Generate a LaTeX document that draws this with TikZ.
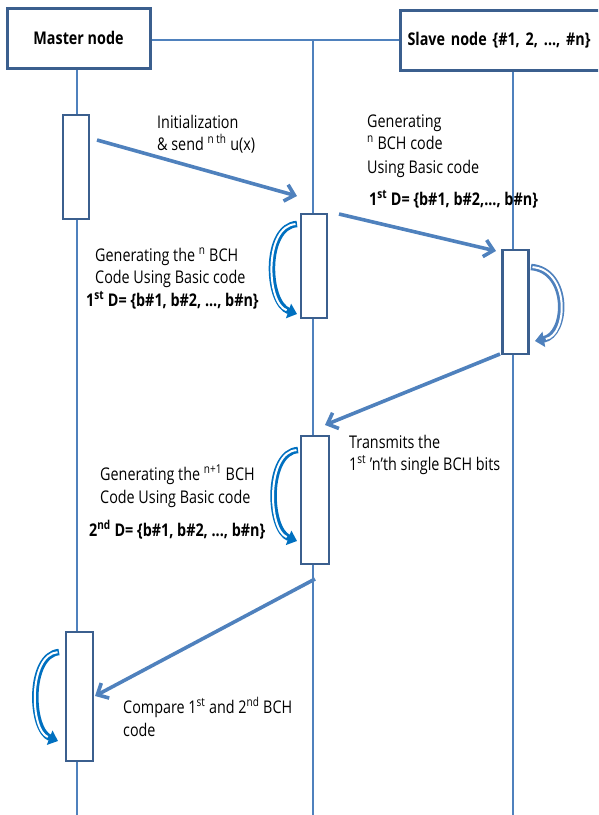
\documentclass[tikz,border=0pt]{standalone}
\usepackage{fontspec}
\setmainfont{Open Sans}[FakeStretch=0.82]
\usetikzlibrary{arrows.meta}
\definecolor{lifeblue}{HTML}{4F81BD}
\definecolor{boxblue}{HTML}{3B5F8E}
\definecolor{selfblue}{HTML}{0070C0}
\tikzset{
  headbox/.style={draw=boxblue, line width=3pt, fill=white, minimum height=60pt, inner sep=0pt},
  actbox/.style={draw=boxblue, line width=2.8pt, fill=white, minimum width=26pt, inner sep=0pt},
  lifeline/.style={draw=lifeblue, line width=2.6pt},
  msgarrow/.style={draw=lifeblue, line width=3.6pt, -{Straight Barb[length=9pt,width=17pt]}},
  selfout/.style={line width=6.5pt, -{Triangle[length=9pt,width=15pt]}},
  selfin/.style={draw=white, line width=2pt, shorten >=11pt, shorten <=1.5pt},
  lbl/.style={anchor=base west, inner sep=0pt, font=\fontsize{17.5}{22}\selectfont},
  blbl/.style={anchor=base west, inner sep=0pt, font=\fontsize{17.5}{22}\selectfont\bfseries}
}
\begin{document}
\begin{tikzpicture}[x=1pt,y=-1pt]
\useasboundingbox (0,0) rectangle (598,815);
\begin{scope}
\clip (0,0) rectangle (598,815);
% lifelines
\coordinate (mTop) at (77,68);
\coordinate (mBot) at (77,815);
\coordinate (cTop) at (313,40);
\coordinate (cBot) at (313,815);
\coordinate (sTop) at (513,70);
\coordinate (sBot) at (513,815);
\draw[lifeline] (mTop) -- (mBot);
\draw[lifeline] (cTop) -- (cBot);
\draw[lifeline] (sTop) -- (sBot);
\coordinate (hL) at (150,40);
\coordinate (hR) at (399,40);
\draw[lifeline] (hL) -- (hR);
% header boxes
\node[headbox, minimum width=143pt, font=\fontsize{17.5}{22}\selectfont\bfseries] (master) at (78.5,38) {Master node};
\node[headbox, anchor=west, text width=192pt, inner xsep=7pt, align=left, font=\fontsize{17.5}{22}\selectfont\bfseries] (slave) at (399,40) {Slave node \{\#1, 2, ..., \#n\}};
% activation boxes
\node[actbox, minimum height=104pt] (m1) at (76,167) {};
\node[actbox, minimum height=104pt] (c1) at (314,266) {};
\node[actbox, minimum height=104pt] (s1) at (515.5,302) {};
\node[actbox, minimum height=128pt, minimum width=28pt] (c2) at (315,500) {};
\node[actbox, minimum height=129pt, minimum width=27pt] (m2) at (79.5,696.5) {};
% message arrows
\coordinate (a1s) at (97,140);
\coordinate (a1e) at (297,196);
\coordinate (a2s) at (339,214);
\coordinate (a2e) at (496,251);
\coordinate (a3s) at (500,354);
\coordinate (a3e) at (325,425);
\coordinate (a4s) at (315,579);
\coordinate (a4e) at (95,696);
\draw[msgarrow] (a1s) -- (a1e);
\draw[msgarrow] (a2s) -- (a2e);
\draw[msgarrow] (a3s) -- (a3e);
\draw[msgarrow] (a4s) -- (a4e);
% self arrows
\coordinate (f1s) at (297,224);
\coordinate (f1e) at (297,314);
\draw[selfout, draw=selfblue] (f1s) .. controls (264,226) and (266,303) .. (f1e);
\draw[selfin] (f1s) .. controls (264,226) and (266,303) .. (f1e);
\coordinate (f2s) at (531,267);
\coordinate (f2e) at (535,341);
\draw[selfout, draw=lifeblue] (f2s) .. controls (570,270) and (568,335) .. (f2e);
\draw[selfin] (f2s) .. controls (570,270) and (568,335) .. (f2e);
\coordinate (f3s) at (298,450);
\coordinate (f3e) at (297,541);
\draw[selfout, draw=selfblue] (f3s) .. controls (266,452) and (268,530) .. (f3e);
\draw[selfin] (f3s) .. controls (266,452) and (268,530) .. (f3e);
\coordinate (f4s) at (59,652);
\coordinate (f4e) at (58,741);
\draw[selfout, draw=selfblue] (f4s) .. controls (28,655) and (30,730) .. (f4e);
\draw[selfin] (f4s) .. controls (28,655) and (30,730) .. (f4e);
\end{scope}
% labels
\node[lbl] (t1a) at (157,128) {Initialization};
\node[lbl] (t1b) at (157,150) {\& send \textsuperscript{n th} u(x)};
\node[lbl] (t2a) at (367,127) {Generating};
\node[lbl] (t2b) at (367,149) {\textsuperscript{n} BCH code};
\node[lbl] (t2c) at (367,173) {Using Basic code};
\node[blbl] (t2d) at (369,205) {1\textsuperscript{st} D= \{b\#1, b\#2,..., b\#n\}};
\node[lbl] (t3a) at (95,261) {Generating the \textsuperscript{n} BCH};
\node[lbl] (t3b) at (95,283) {Code Using Basic code};
\node[blbl] (t3c) at (86,306) {1\textsuperscript{st} D= \{b\#1, b\#2, ..., b\#n\}};
\node[lbl] (t4a) at (349,448) {Transmits the};
\node[lbl] (t4b) at (349,470) {1\textsuperscript{st} ’n’th single BCH bits};
\node[lbl] (t5a) at (100,480) {Generating the \textsuperscript{n+1} BCH};
\node[lbl] (t5b) at (100,503) {Code Using Basic code};
\node[blbl] (t5c) at (89,536) {2\textsuperscript{nd} D= \{b\#1, b\#2, ..., b\#n\}};
\node[lbl] (t6a) at (123,713) {Compare 1\textsuperscript{st} and 2\textsuperscript{nd} BCH};
\node[lbl] (t6b) at (123,736) {code};
\end{tikzpicture}
\end{document}
